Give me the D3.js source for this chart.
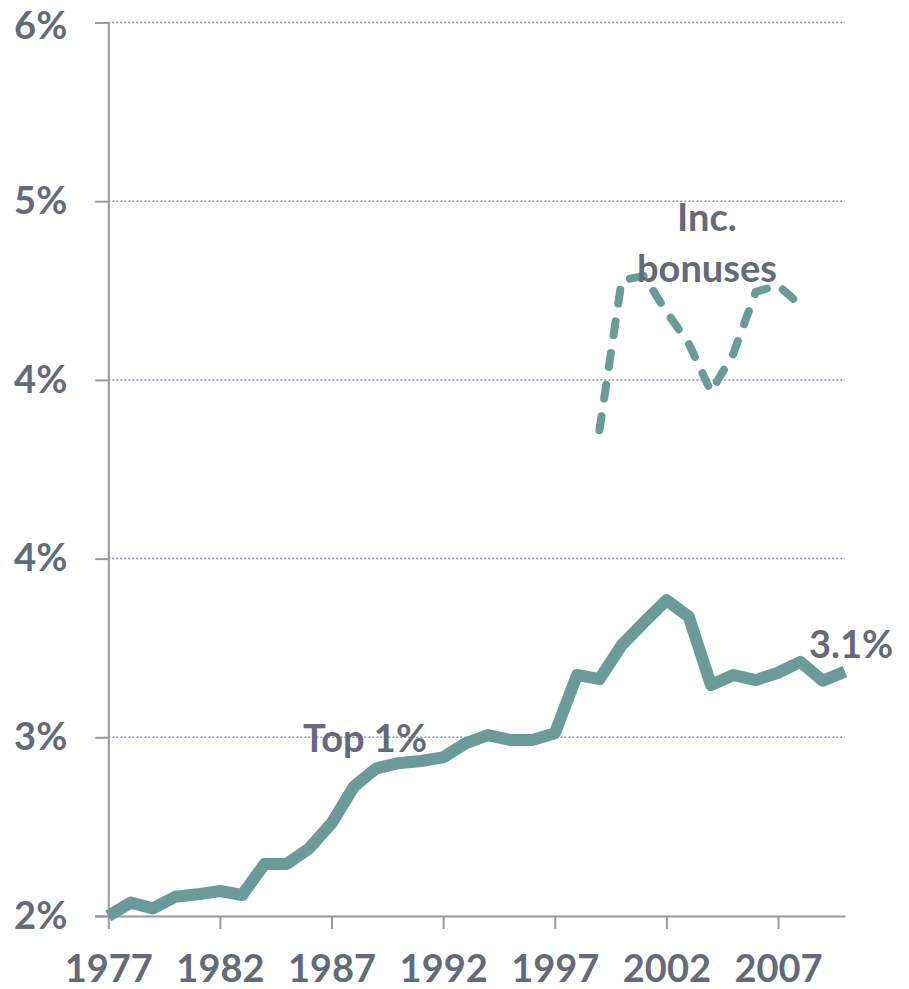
<!DOCTYPE html>
<html><head><meta charset="utf-8">
<script src="https://cdn.jsdelivr.net/npm/d3@7"></script>
<style>body{margin:0;background:#fff}svg{display:block}</style>
</head><body>
<script>
const years = d3.range(1977, 2011);
const top1 = [2.00,2.06,2.034,2.086,2.097,2.112,2.094,2.233,2.233,2.303,2.415,2.579,2.661,2.684,2.694,2.71,2.773,2.81,2.788,2.788,2.818,3.079,3.06,3.213,3.315,3.414,3.34,3.034,3.079,3.056,3.089,3.138,3.053,3.094];
const bonusYears = d3.range(1999, 2009);
const bonuses = [4.175,4.847,4.865,4.705,4.563,4.347,4.518,4.794,4.824,4.735];
const yTicks = [2.0,2.8,3.6,4.4,5.2,6.0];
const yTickLabels = ["2%","3%","4%","4%","5%","6%"];
const xTicks = [1977,1982,1987,1992,1997,2002,2007];

const W=909,H=989;
const svg=d3.select("body").append("svg").attr("width",W).attr("height",H);
const x=d3.scaleLinear().domain([1977,2010]).range([108.3,845]);
const y=d3.scaleLinear().domain([2,6]).range([916,22.5]);
const font="Lato, 'Open Sans', sans-serif";
const txt="#646a78";
const fs="38px";

// gridlines
svg.append("g").selectAll("line").data(yTicks.slice(1)).join("line")
  .attr("x1",x(1977)).attr("x2",x(2010)).attr("y1",d=>y(d)).attr("y2",d=>y(d))
  .attr("stroke","#8a8ac8").attr("stroke-width",1.5).attr("stroke-dasharray","2,2");

// y axis
const ya=svg.append("g").attr("transform",`translate(${x(1977)},0)`)
  .call(d3.axisLeft(y).tickValues(yTicks).tickSize(13).tickPadding(28).tickFormat((d,i)=>yTickLabels[i]));
ya.select(".domain").attr("stroke","#999").attr("stroke-width",2);
ya.selectAll(".tick line").attr("stroke","#999").attr("stroke-width",2);
ya.selectAll("text").attr("fill",txt).style("font-family",font).style("font-weight","bold").style("font-size",fs)
  .attr("dy",(d,i)=> i===yTicks.length-1 ? "0.42em" : "0.32em");

// x axis
const xa=svg.append("g").attr("transform",`translate(0,${y(2)})`)
  .call(d3.axisBottom(x).tickValues(xTicks).tickSize(13).tickSizeOuter(0).tickPadding(26).tickFormat(d3.format("d")));
xa.select(".domain").attr("stroke","#999").attr("stroke-width",2);
xa.selectAll(".tick line").attr("stroke","#999").attr("stroke-width",2);
xa.selectAll("text").attr("fill",txt).style("font-family",font).style("font-weight","bold").style("font-size",fs);

const line=d3.line().x(d=>x(d[0])).y(d=>y(d[1]));
svg.append("path").datum(years.map((yr,i)=>[yr,top1[i]])).attr("d",line)
  .attr("fill","none").attr("stroke","#6a9b98").attr("stroke-width",12).attr("stroke-linejoin","round");
svg.append("path").datum(bonusYears.map((yr,i)=>[yr,bonuses[i]])).attr("d",line)
  .attr("fill","none").attr("stroke","#6a9b98").attr("stroke-width",8).attr("stroke-linecap","round")
  .attr("stroke-dasharray","14,18");

function label(t,xx,yy,anchor){
  svg.append("text").attr("x",xx).attr("y",yy).attr("text-anchor",anchor||"start").text(t)
   .attr("fill",txt).style("font-family",font).style("font-weight","bold").style("font-size",fs);
}
label("Inc.",707,231,"middle");
label("bonuses",707,282,"middle");
label("Top 1%",303,752);
label("3.1%",809,658);
</script>
</body></html>
